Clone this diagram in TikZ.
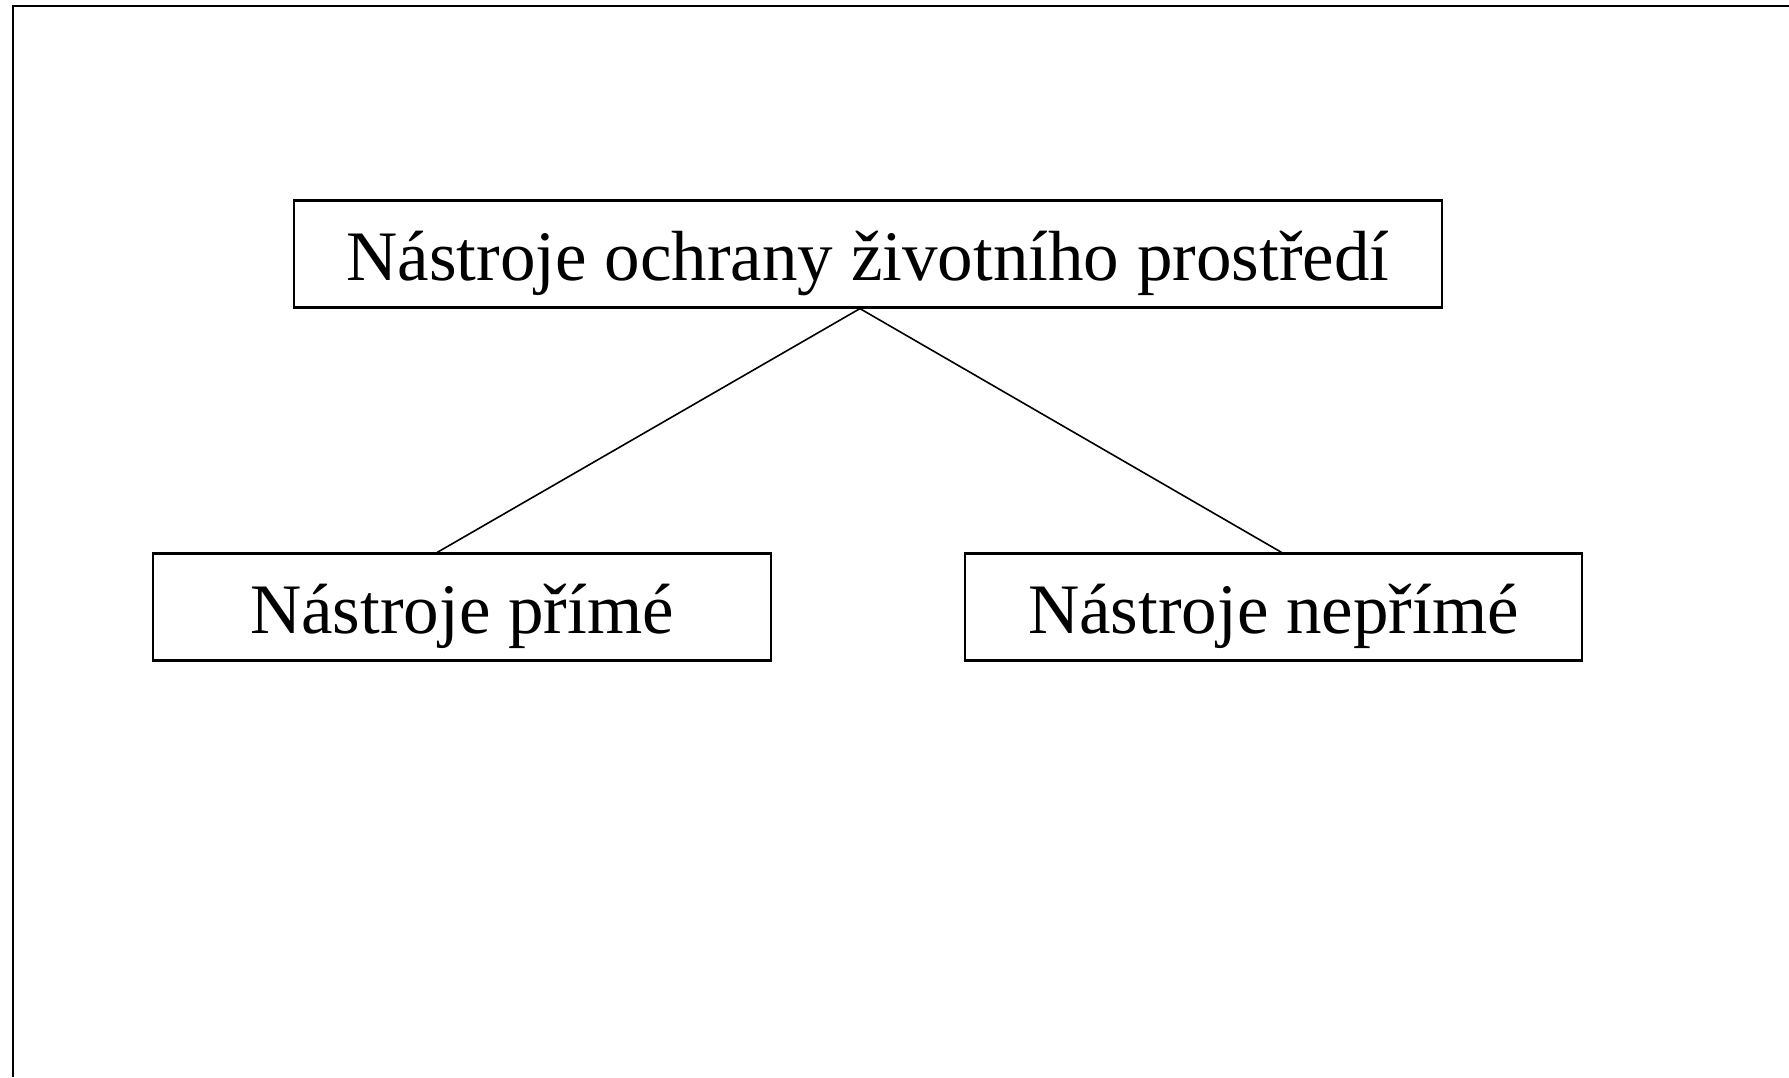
\documentclass[tikz,border=0pt]{standalone}
\usepackage{fontspec}
\setmainfont{Liberation Serif}
\usetikzlibrary{calc}
\begin{document}
\begin{tikzpicture}[x=1pt,y=-1pt,
  box/.style={draw,line width=2.2pt,rectangle,inner sep=0pt,minimum height=107pt,
    text height=60pt,text depth=8pt,font=\fontsize{71}{80}\selectfont},
  link/.style={line width=1.6pt}]
\useasboundingbox (0,0) rectangle (1789,1077);
\draw[line width=2.6pt] (13,1077) -- (13,6) -- (1789,6);
\node[box,minimum width=1148pt] (top) at (868,254) {Nástroje ochrany životního prostředí};
\node[box,minimum width=618pt] (left) at (462,607) {Nástroje přímé};
\node[box,minimum width=617pt] (right) at (1273.5,607) {Nástroje nepřímé};
\coordinate (apex) at ($(top.south west)!0.493!(top.south east)$);
\coordinate (lend) at ($(left.north west)!0.46!(left.north east)$);
\coordinate (rend) at ($(right.north west)!0.513!(right.north east)$);
\draw[link] (apex) -- (lend);
\draw[link] (apex) -- (rend);
\end{tikzpicture}
\end{document}
